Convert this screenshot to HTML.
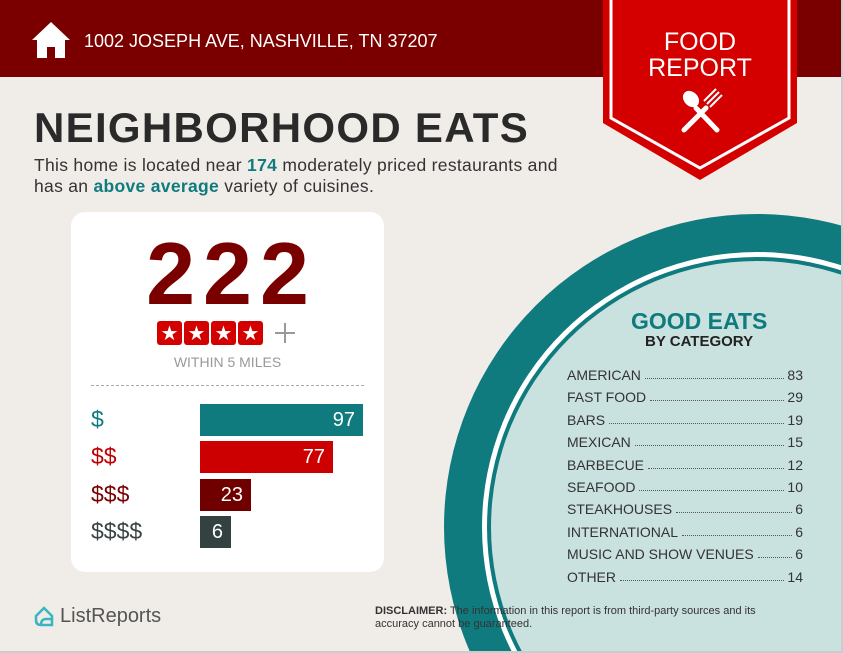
<!DOCTYPE html>
<html><head><meta charset="utf-8"><style>
*{margin:0;padding:0;box-sizing:border-box}
html,body{width:843px;height:653px;overflow:hidden}
body{background:#f0ece8;font-family:"Liberation Sans",sans-serif;position:relative}
.abs{position:absolute}
.hdr{left:0;top:0;width:843px;height:77px;background:#7a0000}
.addr{left:84px;top:31px;color:#fff;font-size:18px}
h1{position:absolute;left:34px;top:104px;font-size:42px;font-weight:bold;color:#2a2a2a;letter-spacing:1.3px;line-height:48px}
.sub{left:34px;top:155px;font-size:17.5px;color:#333;line-height:21px;letter-spacing:0.3px}
.sub b{color:#0f7b7e}
.card{left:71px;top:212px;width:313px;height:360px;background:#fff;border-radius:14px}
.big{left:4px;width:313px;top:12px;text-align:center;font-size:88px;line-height:100px;font-weight:bold;color:#7a0000;letter-spacing:8px}
.row{position:absolute;left:20px;font-size:23px}
.bar{position:absolute;left:129px;height:32px;color:#fff;font-size:20px;text-align:right;padding-right:8px;line-height:32px}
.cat{position:absolute;left:567px;width:236px;font-size:14px;color:#333;display:flex;white-space:nowrap}
.cat .d{flex:1;border-bottom:1px dotted #555;margin:0 3px 4px 4px}
</style></head><body>
<svg class="abs" style="left:0;top:0" width="843" height="653">
<circle cx="757" cy="527" r="313" fill="#0f7b7e"/>
<circle cx="757" cy="527" r="275" fill="#fff"/>
<circle cx="757" cy="527" r="270" fill="#0f7b7e"/>
<circle cx="757" cy="527" r="266" fill="#c9e1df"/>
</svg>
<div class="abs hdr"></div>
<svg class="abs" style="left:30px;top:20px" width="42" height="40" viewBox="0 0 42 40"><path d="M21 2 L2 20 L7 20 L7 38 L17 38 L17 27 L25 27 L25 38 L35 38 L35 20 L40 20 Z" fill="#fff"/></svg>
<div class="abs addr">1002 JOSEPH AVE, NASHVILLE, TN 37207</div>
<svg class="abs" style="left:600px;top:0" width="200" height="182">
<path d="M3 0 H197 V123 L100 180 L3 123 Z" fill="#d40000"/>
<path d="M11 0 V118 L100 168 L189 118 V0" fill="none" stroke="#fff" stroke-width="3"/>
<text x="100" y="50" text-anchor="middle" fill="#fff" font-family="Liberation Sans" font-size="25">FOOD</text>
<text x="100" y="76" text-anchor="middle" fill="#fff" font-family="Liberation Sans" font-size="25">REPORT</text>
<g stroke="#fff" stroke-width="5" stroke-linecap="round"><line x1="84" y1="130" x2="106" y2="108"/><line x1="117" y1="130" x2="96" y2="108"/></g>
<ellipse cx="91" cy="99" rx="7" ry="9" transform="rotate(-45 91 99)" fill="#fff"/>
<path d="M104 101 L116 89 M107 104 L119 92 M110 107 L122 95" stroke="#fff" stroke-width="2"/>
</svg>
<h1>NEIGHBORHOOD EATS</h1>
<div class="abs sub">This home is located near <b>174</b> moderately priced restaurants and<br>has an <b>above average</b> variety of cuisines.</div>
<div class="abs card">
<div class="abs big">222</div>
<svg class="abs" style="left:86px;top:108px" width="145" height="26">
<g fill="#d40000"><rect x="0" y="1" width="25" height="24" rx="3"/><rect x="27" y="1" width="25" height="24" rx="3"/><rect x="54" y="1" width="25" height="24" rx="3"/><rect x="81" y="1" width="25" height="24" rx="3"/></g>
<g fill="#fff" font-size="20" font-family="DejaVu Sans" text-anchor="middle"><text x="12.5" y="20">★</text><text x="39.5" y="20">★</text><text x="66.5" y="20">★</text><text x="93.5" y="20">★</text></g>
<path d="M118 13 H138 M128 3 V23" stroke="#999" stroke-width="2"/>
</svg>
<div class="abs" style="left:0;width:313px;top:142px;text-align:center;font-size:14px;color:#999">WITHIN 5 MILES</div>
<div class="abs" style="left:20px;top:173px;width:273px;border-top:1px dashed #aaa"></div>
<div class="row" style="top:194px;color:#0f7b7e">$</div>
<div class="row" style="top:231px;color:#c00000">$$</div>
<div class="row" style="top:269px;color:#7a0000">$$$</div>
<div class="row" style="top:306px;color:#3a4444">$$$$</div>
<div class="bar" style="top:192px;width:163px;background:#0f7b7e">97</div>
<div class="bar" style="top:229px;width:133px;background:#cc0000">77</div>
<div class="bar" style="top:267px;width:51px;background:#700000">23</div>
<div class="bar" style="top:304px;width:31px;background:#334141">6</div>
</div>
<svg class="abs" style="left:33px;top:606px" width="22" height="22"><path d="M3 10 L11 2 L19 10 V19 H8 Q3 19 3 14 Z M8 19 Q8 13 13 13 H19" fill="none" stroke="#3ab5c0" stroke-width="2.5"/></svg>
<div class="abs" style="left:60px;top:605px;font-size:20px;color:#555">ListReports</div>
<div class="abs" style="left:631px;top:308px;font-size:23px;font-weight:bold;color:#0f7b7e">GOOD EATS</div>
<div class="abs" style="left:645px;top:333px;font-size:15px;font-weight:bold;color:#222">BY CATEGORY</div>
<div class="cat" style="top:367px">AMERICAN<span class="d"></span>83</div>
<div class="cat" style="top:389px">FAST FOOD<span class="d"></span>29</div>
<div class="cat" style="top:412px">BARS<span class="d"></span>19</div>
<div class="cat" style="top:434px">MEXICAN<span class="d"></span>15</div>
<div class="cat" style="top:457px">BARBECUE<span class="d"></span>12</div>
<div class="cat" style="top:479px">SEAFOOD<span class="d"></span>10</div>
<div class="cat" style="top:501px">STEAKHOUSES<span class="d"></span>6</div>
<div class="cat" style="top:524px">INTERNATIONAL<span class="d"></span>6</div>
<div class="cat" style="top:546px">MUSIC AND SHOW VENUES<span class="d"></span>6</div>
<div class="cat" style="top:569px">OTHER<span class="d"></span>14</div>
<div class="abs" style="left:375px;top:605px;font-size:11px;color:#333;line-height:13px"><b>DISCLAIMER:</b> The information in this report is from third-party sources and its<br>accuracy cannot be guaranteed.</div>
<div class="abs" style="left:841px;top:0;width:2px;height:653px;background:#ccc"></div>
<div class="abs" style="left:0;top:651px;width:843px;height:2px;background:#ccc"></div>
</body></html>
